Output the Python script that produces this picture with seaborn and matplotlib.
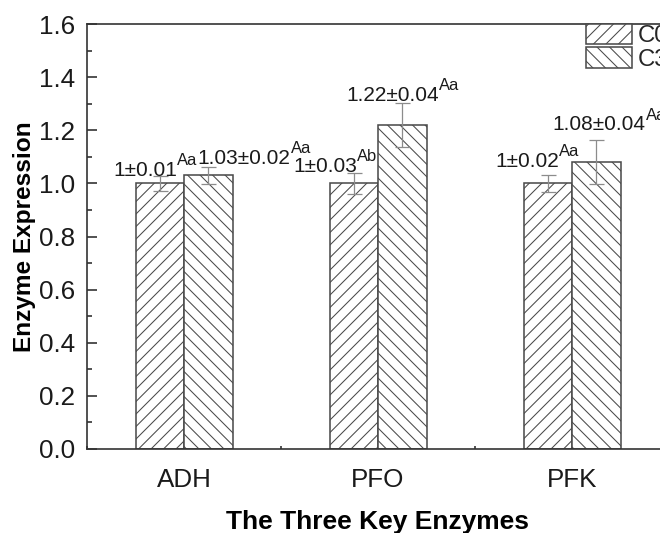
import numpy as np
import pandas as pd
import seaborn as sns
import matplotlib
matplotlib.use("Agg")
import matplotlib.pyplot as plt
from matplotlib.patches import Patch
from matplotlib.ticker import MultipleLocator

# ---------------- data ----------------
enzymes = ["ADH", "PFO", "PFK"]
groups = ["C0", "C3"]
c0_mean = [1.0, 1.0, 1.0]
c3_mean = [1.03, 1.22, 1.08]
c0_sd_label = [0.01, 0.03, 0.02]
c3_sd_label = [0.02, 0.04, 0.04]
c0_err = [0.028, 0.040, 0.032]      # drawn error-bar half lengths
c3_err = [0.032, 0.083, 0.083]
c0_letters = ["Aa", "Ab", "Aa"]
c3_letters = ["Aa", "Aa", "Aa"]

df = pd.DataFrame({
    "enzyme": enzymes * 2,
    "group": ["C0"] * 3 + ["C3"] * 3,
    "value": c0_mean + c3_mean,
})

# ---------------- style ----------------
sns.set_style("ticks")
plt.rcParams["font.family"] = ["Liberation Sans", "DejaVu Sans"]
plt.rcParams["hatch.linewidth"] = 0.5
plt.rcParams["hatch.color"] = "#8c8c8c"

DPI = 150
fig = plt.figure(figsize=(660 / DPI, 533 / DPI), dpi=DPI)
ax = fig.add_axes([87 / 660, 1 - 449 / 533, 582 / 660, 425 / 533])

edge = "#4a4a4a"
sns.barplot(data=df, x="enzyme", y="value", hue="group", order=enzymes,
            hue_order=groups, palette=["white", "white"], saturation=1,
            width=0.5, gap=0, errorbar=None, legend=False,
            edgecolor=edge, linewidth=0.75, ax=ax)

hatches = ["////", "\\\\\\\\"]
means = [c0_mean, c3_mean]
sds = [c0_sd_label, c3_sd_label]
errs = [c0_err, c3_err]
letters = [c0_letters, c3_letters]
# label placement offsets (pixels) relative to bar center / error-bar top
label_dx = [[-46.5, -60.5, -52.5], [-10.5, -55.5, -43.5]]
label_dy = [[0, 1, 8], [3, 2, 10]]
px2pt = 72 / DPI

bar_containers = list(ax.containers)
for gi, cont in enumerate(bar_containers):
    xs = []
    for bi, bar in enumerate(cont):
        bar.set_hatch(hatches[gi])
        if hasattr(bar, "set_hatchcolor"):
            bar.set_hatchcolor("#8c8c8c")
        xs.append(bar.get_x() + bar.get_width() / 2)
    ax.errorbar(xs, means[gi], yerr=errs[gi], fmt="none", ecolor="#8c8c8c",
                elinewidth=0.6, capsize=3.6, capthick=0.6, zorder=3)
    for bi, x in enumerate(xs):
        top = means[gi][bi] + errs[gi][bi]
        main = ax.annotate(f"{means[gi][bi]:g}\u00b1{sds[gi][bi]:.2f}",
                           xy=(x, top),
                           xytext=(label_dx[gi][bi] * px2pt, label_dy[gi][bi] * px2pt),
                           textcoords="offset points", ha="left", va="baseline",
                           fontsize=10, color="#1a1a1a", annotation_clip=False)
        ax.annotate(letters[gi][bi], xy=(1, 0), xycoords=main,
                    xytext=(0, 14.5 * px2pt), textcoords="offset points",
                    ha="left", va="baseline", fontsize=7.9, color="#1a1a1a",
                    annotation_clip=False)

ax.set_xlim(-0.5, 2.5)
ax.set_ylim(0, 1.6)
ax.yaxis.set_major_locator(MultipleLocator(0.2))
ax.yaxis.set_minor_locator(MultipleLocator(0.1))
ax.xaxis.set_minor_locator(MultipleLocator(0.5))
ax.tick_params(axis="both", which="major", direction="in", length=4.8,
               width=0.8, color="#333333", labelsize=12.5, labelcolor="#1a1a1a")
ax.tick_params(axis="y", which="major", pad=5.8)
ax.tick_params(axis="x", which="major", pad=9)
ax.tick_params(axis="both", which="minor", direction="in", length=2.4,
               width=0.8, color="#333333")
ax.tick_params(axis="x", which="minor", length=1.6)

for s in ax.spines.values():
    s.set_visible(True)
    s.set_color("#333333")
    s.set_linewidth(0.8)

ax.set_xlabel("The Three Key Enzymes", fontsize=12.7, fontweight="bold",
              labelpad=8.6, color="black")
ax.set_ylabel("Enzyme Expression", fontsize=11.7, fontweight="bold",
              labelpad=1.2, color="black")

handles = [Patch(facecolor="white", edgecolor=edge, linewidth=0.75, hatch=h)
           for h in hatches]
ax.legend(handles, groups, loc="upper left", bbox_to_anchor=(0.857, 1.0),
          frameon=False, borderpad=0, borderaxespad=0, fontsize=11.5,
          handlelength=1.92, handleheight=0.92, handletextpad=0.25,
          labelspacing=0.0)

fig.savefig("out.png", dpi=DPI)
